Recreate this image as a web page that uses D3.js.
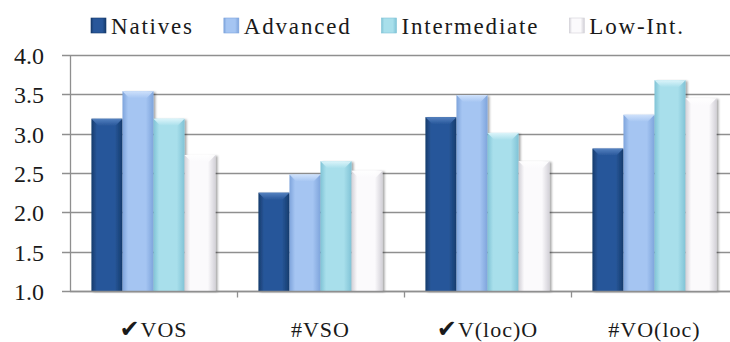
<!DOCTYPE html>
<html>
<head>
<meta charset="utf-8">
<script src="https://cdn.jsdelivr.net/npm/d3@7"></script>
<style>
  html, body { margin: 0; padding: 0; background: #fff; }
  svg { display: block; }
  text { fill: #1a1a1a; }
</style>
</head>
<body>
<svg id="chart" width="730" height="342"></svg>
<script>
// Mean ratings per construction, by speaker group
const categories = ["\u2714VOS", "#VSO", "\u2714V(loc)O", "#VO(loc)"];
const seriesNames = ["Natives", "Advanced", "Intermediate", "Low-Int."];
const natives      = [3.19, 2.25, 3.21, 2.81];
const advanced     = [3.54, 2.48, 3.49, 3.24];
const intermediate = [3.19, 2.65, 3.01, 3.68];
const lowInt       = [2.73, 2.53, 2.65, 3.45];
const yTicks = [1.0, 1.5, 2.0, 2.5, 3.0, 3.5, 4.0];

const seriesValues = [natives, advanced, intermediate, lowInt];
const SERIF = "'Liberation Serif', 'Times New Roman', Times, serif";

// bar fills: edge colour, centre colour, bevel highlight
const palette = [
  { edge: "#163b6c", mid: "#28579a", top: "#5a86c4" },
  { edge: "#7ea4dc", mid: "#a5c5f2", top: "#d3e4fc" },
  { edge: "#80c3d6", mid: "#a8dfeb", top: "#e2f7fc" },
  { edge: "#d2d0d7", mid: "#fbfafc", top: "#ffffff" }
];

const svg = d3.select("#chart");
const margin = { left: 70, right: -8, top: 55, bottom: 51 };
const W = 730, H = 342;

const x0 = d3.scaleBand().domain(categories)
  .range([margin.left, W - margin.right]).paddingInner(0).paddingOuter(0);
const x1 = d3.scaleBand().domain(seriesNames)
  .range([0, x0.bandwidth()]).paddingInner(0).paddingOuter(0.69);
const y = d3.scaleLinear().domain([1, 4]).range([H - margin.bottom, margin.top]);

const defs = svg.append("defs");
palette.forEach((p, i) => {
  const g = defs.append("linearGradient").attr("id", "bar" + i)
    .attr("x1", "0%").attr("x2", "100%").attr("y1", "0%").attr("y2", "0%");
  g.append("stop").attr("offset", "0%").attr("stop-color", p.edge);
  g.append("stop").attr("offset", "18%").attr("stop-color", p.mid);
  g.append("stop").attr("offset", "75%").attr("stop-color", p.mid);
  g.append("stop").attr("offset", "100%").attr("stop-color", p.edge);
  const t = defs.append("linearGradient").attr("id", "top" + i)
    .attr("x1", "0%").attr("x2", "0%").attr("y1", "0%").attr("y2", "100%");
  t.append("stop").attr("offset", "0%").attr("stop-color", p.top);
  t.append("stop").attr("offset", "100%").attr("stop-color", p.mid);
});
const shadow = defs.append("filter").attr("id", "shadow")
  .attr("x", "-20%").attr("y", "-10%").attr("width", "150%").attr("height", "130%");
shadow.append("feDropShadow").attr("dx", 2).attr("dy", 1).attr("stdDeviation", 1.2)
  .attr("flood-color", "#000").attr("flood-opacity", 0.35);

// gridlines
svg.append("g").selectAll("line").data(yTicks).join("line")
  .attr("x1", margin.left - 8).attr("x2", W)
  .attr("y1", d => Math.round(y(d)) + 0.5).attr("y2", d => Math.round(y(d)) + 0.5)
  .attr("stroke", "#8f8f8f").attr("stroke-width", 1.3);

// y axis labels
const yAxis = d3.axisLeft(y).tickValues(yTicks).tickFormat(d3.format(".1f"))
  .tickSize(0).tickPadding(0);
const yg = svg.append("g").attr("transform", `translate(${margin.left - 26},0)`).call(yAxis);
yg.select(".domain").remove();
yg.selectAll("text").attr("font-size", 24).style("font-family", SERIF)
  .attr("fill", "#1a1a1a").attr("dy", "0.36em");

// vertical axis line
svg.append("line")
  .attr("x1", margin.left + 0.5).attr("x2", margin.left + 0.5)
  .attr("y1", y(4)).attr("y2", y(1) + 1)
  .attr("stroke", "#8f8f8f").attr("stroke-width", 1.3);

// bars
const groups = svg.append("g").selectAll("g").data(categories).join("g")
  .attr("transform", c => `translate(${x0(c)},0)`);

groups.each(function(c, ci) {
  const g = d3.select(this);
  seriesNames.forEach((s, si) => {
    const v = seriesValues[si][ci];
    const bx = x1(s), bw = x1.bandwidth();
    const by = y(v), bh = y(1) - y(v);
    const bar = g.append("g").attr("filter", "url(#shadow)");
    bar.append("rect").attr("x", bx).attr("y", by).attr("width", bw).attr("height", bh)
      .attr("fill", `url(#bar${si})`);
    // bevelled top face
    const bev = 7;
    bar.append("path")
      .attr("d", `M${bx},${by} L${bx + bw},${by} L${bx + bw - bev},${by + bev} L${bx + bev},${by + bev} Z`)
      .attr("fill", `url(#top${si})`).attr("opacity", 0.9);
  });
});

// bottom axis with ticks between categories
const bottomY = Math.round(y(1)) + 0.5;
svg.append("line").attr("x1", margin.left).attr("x2", W)
  .attr("y1", bottomY).attr("y2", bottomY)
  .attr("stroke", "#8f8f8f").attr("stroke-width", 1.3);
svg.append("g").selectAll("line").data(categories.slice(1)).join("line")
  .attr("x1", c => Math.round(x0(c)) + 0.5).attr("x2", c => Math.round(x0(c)) + 0.5)
  .attr("y1", bottomY).attr("y2", bottomY + 6)
  .attr("stroke", "#8f8f8f").attr("stroke-width", 1.3);

// category labels
const xl = svg.append("g").selectAll("text").data(categories).join("text")
  .attr("x", c => x0(c) + x0.bandwidth() / 2).attr("y", 337)
  .attr("text-anchor", "middle").attr("font-size", 22).attr("letter-spacing", 1)
  .style("font-family", SERIF);
xl.each(function(c) {
  const t = d3.select(this);
  if (c.startsWith("\u2714")) {
    t.append("tspan").style("font-family", "'DejaVu Sans', sans-serif").attr("font-size", 24)
      .text("\u2714");
    t.append("tspan").text(c.slice(1));
  } else {
    t.text(c);
  }
});

// legend
const legend = svg.append("g").attr("transform", "translate(91,0)");
let lx = 0;
seriesNames.forEach((s, i) => {
  const item = legend.append("g").attr("transform", `translate(${lx},0)`);
  item.append("rect").attr("x", 0).attr("y", 18).attr("width", 15).attr("height", 15)
    .attr("fill", `url(#bar${i})`).attr("stroke", palette[i].edge).attr("stroke-width", 0.6);
  const t = item.append("text").attr("x", 20).attr("y", 34).attr("font-size", 23)
    .attr("letter-spacing", 1.8).style("font-family", SERIF).text(s);
  lx += 20 + t.node().getComputedTextLength() + 30;
});
</script>
</body>
</html>
